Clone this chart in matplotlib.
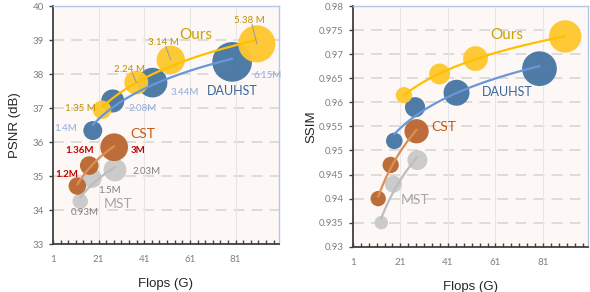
import numpy as np
import matplotlib
matplotlib.use('Agg')
import matplotlib.pyplot as plt
from matplotlib.ticker import MultipleLocator, FixedLocator, FuncFormatter

plt.rcParams['font.family'] = ['Lato', 'DejaVu Sans']

#%% data (Flops in G, params in M)

ours_flops = [22.5, 37.5, 52.6, 90.3]
ours_psnr = [36.95, 37.75, 38.42, 38.89]
ours_ssim = [0.9615, 0.9659, 0.9691, 0.9737]
ours_params = [1.35, 2.24, 3.14, 5.38]

dauhst_flops = [18.44, 27.17, 44.61, 79.50]
dauhst_psnr = [36.34, 37.21, 37.75, 38.36]
dauhst_ssim = [0.952, 0.959, 0.962, 0.967]
dauhst_params = [1.40, 2.08, 3.44, 6.15]

cst_flops = [11.67, 16.91, 27.81]
cst_psnr = [34.71, 35.31, 35.85]
cst_ssim = [0.940, 0.947, 0.954]
cst_params = [1.20, 1.36, 3.00]

mst_flops = [12.96, 18.07, 28.15]
mst_psnr = [34.26, 34.94, 35.18]
mst_ssim = [0.935, 0.943, 0.948]
mst_params = [0.93, 1.50, 2.03]

ours_labels = ['1.35 M', '2.24 M', '3.14 M', '5.38 M']
dauhst_labels = ['1.4M', '2.08M', '3.44M', '6.15M']
cst_labels = ['1.2M', '1.36M', '3M']
mst_labels = ['0.93M', '1.5M', '2.03M']

#%% style

C_OURS = '#FFC72C'
C_DAU = '#4574A3'
C_CST = '#B9662F'
C_MST = '#C9C9C9'
L_OURS = '#FFC000'
L_DAU = '#6A97D8'
L_CST = '#DE8F55'
L_MST = '#BDBDBD'
BG = '#FDF8F5'


def bubbleSize(params, k):
    d = k * np.sqrt(np.asarray(params))  # diameter in px
    return (d * 0.72) ** 2


def trend(ax, x, y, col):
    x = np.asarray(x)
    b, a = np.polyfit(np.log(x), y, 1)
    xs = np.linspace(x.min(), x.max(), 100)
    ax.plot(xs, a + b * np.log(xs), color=col, lw=1.6, zorder=5, solid_capstyle='round')


def styleAx(ax, ylim, ystep, fmt):
    ax.set_facecolor(BG)
    ax.set_xlim(1, 100)
    ax.set_ylim(*ylim)
    ax.xaxis.set_major_locator(FixedLocator([1, 21, 41, 61, 81]))
    ax.xaxis.set_minor_locator(FixedLocator(np.arange(1, 100, 10 / 3)))
    ax.yaxis.set_major_locator(MultipleLocator(ystep))
    ax.yaxis.set_major_formatter(FuncFormatter(fmt))
    ax.tick_params(axis='x', which='both', direction='in', length=3, width=1,
                   color='#404040', labelsize=7, labelcolor='#7F7F7F', pad=8)
    ax.tick_params(axis='y', direction='out', length=3, width=1,
                   color='#404040', labelsize=7, labelcolor='#7F7F7F')
    for s in ('left', 'bottom'):
        ax.spines[s].set_color('#404040')
        ax.spines[s].set_linewidth(1.3)
    for s in ('top', 'right'):
        ax.spines[s].set_color('#B4C7E7')
        ax.spines[s].set_linewidth(1)
    for yv in np.arange(ylim[0] + ystep, ylim[1] - ystep / 2, ystep):
        ax.axhline(yv, color='#D9D9D9', lw=1.3, ls=(0, (6, 4)), zorder=0)
    for xv in [21, 41, 61, 81]:
        ax.axvline(xv, color='#E6E6E6', lw=0.8, zorder=0)
    ax.set_xlabel('Flops (G)', fontsize=9.5, family='Liberation Sans', color='#262626', labelpad=10)


fig = plt.figure(figsize=(5.9, 2.92), dpi=100)
ax1 = fig.add_axes([0.0898, 0.164, 0.383, 0.815])
ax2 = fig.add_axes([0.598, 0.155, 0.399, 0.824])

#%% PSNR panel

k1 = 16
ax1.scatter(mst_flops, mst_psnr, s=bubbleSize(mst_params, k1), color=C_MST, alpha=0.95, lw=0, zorder=2)
ax1.scatter(cst_flops, cst_psnr, s=bubbleSize(cst_params, k1), color=C_CST, alpha=0.95, lw=0, zorder=3)
ax1.scatter(dauhst_flops, dauhst_psnr, s=bubbleSize(dauhst_params, k1), color=C_DAU, alpha=0.95, lw=0, zorder=3)
ax1.scatter(ours_flops, ours_psnr, s=bubbleSize(ours_params, k1), color=C_OURS, alpha=0.95, lw=0, zorder=4)
trend(ax1, mst_flops, mst_psnr, L_MST)
trend(ax1, cst_flops, cst_psnr, L_CST)
trend(ax1, dauhst_flops, dauhst_psnr, L_DAU)
trend(ax1, ours_flops, ours_psnr, L_OURS)
styleAx(ax1, (33, 40), 1, lambda v, p: '%d' % v)
ax1.set_ylabel('PSNR (dB)', fontsize=9.5, family='Liberation Sans', color='#262626', labelpad=8)

txt = dict(ha='center', va='center', zorder=6)
ours_pos = [(12.8, 36.99), (34.6, 38.15), (49.2, 38.93), (87, 39.59)]
for (x, y), t in zip(ours_pos, ours_labels):
    ax1.text(x, y, t, fontsize=7, color='#BF9000', **txt)
# leader lines from label to bubble centre
for (x, y), fx, fy in list(zip(ours_pos, ours_flops, ours_psnr))[1:]:
    ax1.plot([x + 1.2, fx], [y - 0.12, fy], color='#9A9A9A', lw=0.7, zorder=6)
for (x, y), t in zip([(6.7, 36.40), (40.4, 36.99), (58.6, 37.46), (95, 37.97)], dauhst_labels):
    ax1.text(x, y, t, fontsize=7, color='#8FAADC', **txt)
for (x, y), t in zip([(7.0, 35.05), (12.5, 35.74), (38.2, 35.74)], cst_labels):
    ax1.text(x, y, t, fontsize=7, color='#C00000', fontweight='bold', **txt)
for (x, y), t in zip([(15.0, 33.92), (25.9, 34.59), (41.9, 35.15)], mst_labels):
    ax1.text(x, y, t, fontsize=7, color='#808080', **txt)
ax1.text(63.7, 39.15, 'Ours', fontsize=11, color='#C9A100', **txt)
ax1.text(79.6, 37.51, 'DAUHST', fontsize=9, color='#3A659A', **txt)
ax1.text(40.3, 36.24, 'CST', fontsize=10, color='#C55A11', **txt)
ax1.text(29.5, 34.17, 'MST', fontsize=10, color='#A6A6A6', **txt)

#%% SSIM panel

k2 = 14
ax2.scatter(mst_flops, mst_ssim, s=bubbleSize(mst_params, k2), color=C_MST, alpha=0.95, lw=0, zorder=2)
ax2.scatter(cst_flops, cst_ssim, s=bubbleSize(cst_params, k2), color=C_CST, alpha=0.95, lw=0, zorder=3)
ax2.scatter(dauhst_flops, dauhst_ssim, s=bubbleSize(dauhst_params, k2), color=C_DAU, alpha=0.95, lw=0, zorder=3)
ax2.scatter(ours_flops, ours_ssim, s=bubbleSize(ours_params, k2), color=C_OURS, alpha=0.95, lw=0, zorder=4)
trend(ax2, mst_flops, mst_ssim, L_MST)
trend(ax2, cst_flops, cst_ssim, L_CST)
trend(ax2, dauhst_flops, dauhst_ssim, L_DAU)
trend(ax2, ours_flops, ours_ssim, L_OURS)
styleAx(ax2, (0.93, 0.98), 0.005, lambda v, p: ('%.3f' % v).rstrip('0').rstrip('.'))
ax2.set_ylabel('SSIM', fontsize=9.5, family='Liberation Sans', color='#262626', labelpad=1)

ax2.text(65.9, 0.9741, 'Ours', fontsize=11, color='#C9A100', **txt)
ax2.text(65.9, 0.9621, 'DAUHST', fontsize=9, color='#3A659A', **txt)
ax2.text(39.5, 0.9549, 'CST', fontsize=10, color='#C55A11', **txt)
ax2.text(27.2, 0.9397, 'MST', fontsize=10, color='#A6A6A6', **txt)

fig.savefig('out.png', dpi=100)
